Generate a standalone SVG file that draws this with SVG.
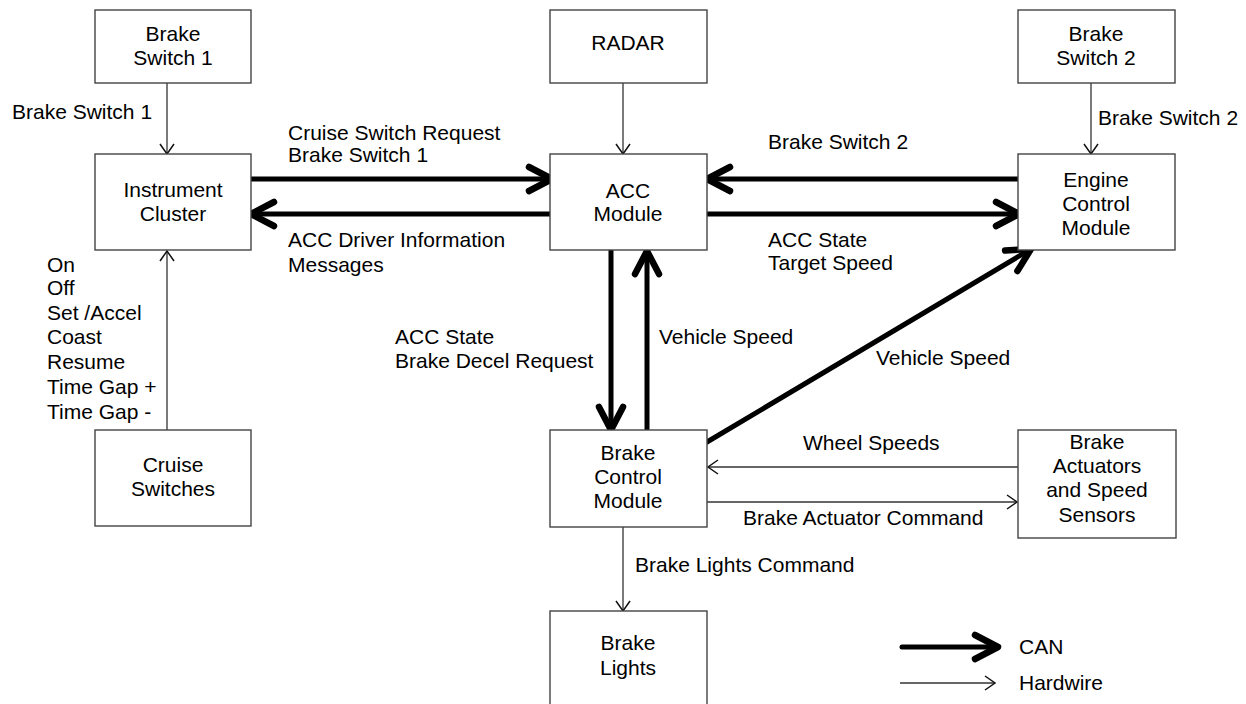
<svg xmlns="http://www.w3.org/2000/svg" width="1246" height="704" viewBox="0 0 1246 704">
<defs>
<style>
text{font-family:"Liberation Sans",Arial,sans-serif;font-size:21px;fill:#000}
.n rect{fill:#fff;stroke:#444;stroke-width:1.4}
.n text{text-anchor:middle}
.can{stroke:#000;stroke-width:5;stroke-linecap:round;fill:none;marker-end:url(#mc)}
.hw{stroke:#333;stroke-width:1.3;fill:none;marker-end:url(#mh)}
</style>
<marker id="mc" markerUnits="userSpaceOnUse" markerWidth="40" markerHeight="40" viewBox="-32 -20 40 40" refX="-3" refY="0" orient="auto" overflow="visible">
<path d="M-26,-12 L-3,0 L-26,12" fill="none" stroke="#000" stroke-width="6.5" stroke-linecap="round" stroke-linejoin="round"/>
</marker>
<marker id="mh" markerUnits="userSpaceOnUse" markerWidth="20" markerHeight="20" viewBox="-14 -10 20 20" refX="0" refY="0" orient="auto" overflow="visible">
<path d="M-10,-7 L0,0 L-10,7" fill="none" stroke="#111" stroke-width="1.5"/>
</marker>
</defs>
<rect width="1246" height="704" fill="#fff"/>

<g id="connectors">
<line class="hw" x1="167" y1="83" x2="167" y2="154"/>
<line class="hw" x1="167" y1="430" x2="167" y2="251"/>
<line class="hw" x1="623" y1="83" x2="623" y2="154"/>
<line class="hw" x1="1091" y1="83" x2="1091" y2="154"/>
<line class="hw" x1="1018" y1="467" x2="708" y2="467"/>
<line class="hw" x1="707" y1="502" x2="1017" y2="502"/>
<line class="hw" x1="623" y1="527" x2="623" y2="611"/>
<line class="can" x1="250" y1="179" x2="552" y2="179"/>
<line class="can" x1="552" y1="214" x2="251" y2="214"/>
<line class="can" x1="1019" y1="179" x2="707" y2="179"/>
<line class="can" x1="707" y1="214" x2="1019" y2="214"/>
<line class="can" x1="611" y1="250" x2="611" y2="430"/>
<line class="can" x1="647" y1="430" x2="647" y2="251"/>
<line class="can" x1="707" y1="442" x2="1031" y2="249"/>
<line class="can" x1="902" y1="647" x2="998" y2="647"/>
<line class="hw" x1="900" y1="683" x2="995" y2="683"/>
</g>

<g id="labels">
<text x="12" y="119">Brake Switch 1</text>
<text x="47" y="272">On</text>
<text x="47" y="295">Off</text>
<text x="47" y="320">Set /Accel</text>
<text x="47" y="344">Coast</text>
<text x="47" y="369">Resume</text>
<text x="47" y="394">Time Gap +</text>
<text x="47" y="419">Time Gap -</text>
<text x="288" y="140">Cruise Switch Request</text>
<text x="288" y="162">Brake Switch 1</text>
<text x="288" y="247">ACC Driver Information</text>
<text x="288" y="272">Messages</text>
<text x="768" y="149">Brake Switch 2</text>
<text x="1098" y="125">Brake Switch 2</text>
<text x="768" y="247">ACC State</text>
<text x="768" y="270">Target Speed</text>
<text x="395" y="344">ACC State</text>
<text x="395" y="368">Brake Decel Request</text>
<text x="659" y="344">Vehicle Speed</text>
<text x="876" y="365">Vehicle Speed</text>
<text x="803" y="450">Wheel Speeds</text>
<text x="743" y="525">Brake Actuator Command</text>
<text x="635" y="572">Brake Lights Command</text>
<text x="1019" y="654">CAN</text>
<text x="1019" y="690">Hardwire</text>
</g>

<g id="brake-switch-1" class="n"><rect x="95" y="10" width="156" height="73"/><text x="173" y="41">Brake</text><text x="173" y="65">Switch 1</text></g>
<g id="radar" class="n"><rect x="550" y="10" width="157" height="73"/><text x="628" y="50">RADAR</text></g>
<g id="brake-switch-2" class="n"><rect x="1018" y="10" width="157" height="73"/><text x="1096" y="41">Brake</text><text x="1096" y="65">Switch 2</text></g>
<g id="instrument-cluster" class="n"><rect x="95" y="154" width="156" height="96"/><text x="173" y="197">Instrument</text><text x="173" y="221">Cluster</text></g>
<g id="acc-module" class="n"><rect x="550" y="154" width="157" height="96"/><text x="628" y="198">ACC</text><text x="628" y="221">Module</text></g>
<g id="engine-control-module" class="n"><rect x="1018" y="154" width="157" height="96"/><text x="1096" y="187">Engine</text><text x="1096" y="211">Control</text><text x="1096" y="235">Module</text></g>
<g id="cruise-switches" class="n"><rect x="95" y="430" width="156" height="96"/><text x="173" y="472">Cruise</text><text x="173" y="496">Switches</text></g>
<g id="brake-control-module" class="n"><rect x="550" y="430" width="157" height="97"/><text x="628" y="460">Brake</text><text x="628" y="484">Control</text><text x="628" y="508">Module</text></g>
<g id="brake-actuators" class="n"><rect x="1018" y="430" width="158" height="108"/><text x="1097" y="449">Brake</text><text x="1097" y="473">Actuators</text><text x="1097" y="497">and Speed</text><text x="1097" y="522">Sensors</text></g>
<g id="brake-lights" class="n"><rect x="550" y="611" width="157" height="97"/><text x="628" y="650">Brake</text><text x="628" y="675">Lights</text></g>
</svg>
